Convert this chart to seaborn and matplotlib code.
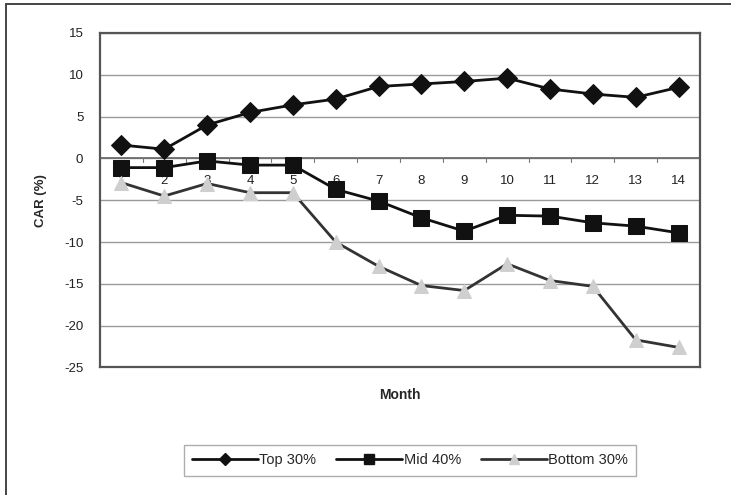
import matplotlib
matplotlib.use("Agg")
import matplotlib.pyplot as plt
import seaborn as sns
import pandas as pd
from matplotlib.lines import Line2D

months = list(range(1, 15))
top_30 = [1.6, 1.1, 4.0, 5.5, 6.4, 7.1, 8.6, 8.9, 9.2, 9.6, 8.3, 7.7, 7.3, 8.5]
mid_40 = [-1.1, -1.1, -0.3, -0.8, -0.8, -3.7, -5.1, -7.1, -8.7, -6.8, -6.9, -7.7, -8.1, -8.9]
bottom_30 = [-2.9, -4.5, -3.0, -4.1, -4.1, -10.0, -12.9, -15.2, -15.8, -12.6, -14.6, -15.3, -21.7, -22.6]
series_names = ["Top 30%", "Mid 40%", "Bottom 30%"]
y_ticks = [15, 10, 5, 0, -5, -10, -15, -20, -25]

sns.set_theme(style="white")
plt.rcParams["font.family"] = ["Liberation Sans", "DejaVu Sans"]

df = pd.DataFrame({
    "Month": months * 3,
    "CAR": top_30 + mid_40 + bottom_30,
    "Group": [series_names[0]] * 14 + [series_names[1]] * 14 + [series_names[2]] * 14,
})

fig = plt.figure(figsize=(7.31, 4.95), dpi=100)
ax = fig.add_axes([0.1368, 0.2576, 0.8208, 0.6758])

# horizontal gridlines and the category axis crossing at zero
for yv in y_ticks:
    ax.axhline(yv, color="#9a9a9a", lw=1.0, zorder=0)
ax.axhline(0, color="#666666", lw=1.2, zorder=1)
for b in range(1, 15):
    ax.plot([b + 0.5, b + 0.5], [0, -0.45], color="#777777", lw=0.8, zorder=1)

# month labels sit just under the zero line, behind the series
for m in months:
    ax.text(m, -2.7, str(m), ha="center", va="center", fontsize=9.5,
            color="#222222", zorder=1)

styles = {
    "Top 30%": dict(color="#111111", marker="D", markersize=10,
                    markerfacecolor="#111111", markeredgecolor="#111111"),
    "Mid 40%": dict(color="#111111", marker="s", markersize=11,
                    markerfacecolor="#111111", markeredgecolor="#111111"),
    "Bottom 30%": dict(color="#333333", marker="^", markersize=10,
                       markerfacecolor="#cfcfcf", markeredgecolor="#cfcfcf"),
}
for name in series_names:
    sub = df[df["Group"] == name]
    sns.lineplot(data=sub, x="Month", y="CAR", ax=ax, lw=2.0, zorder=3,
                 legend=False, **styles[name])

ax.set_xlim(0.5, 14.5)
ax.set_ylim(-25, 15)
ax.set_xticks([])
ax.set_yticks(y_ticks)
ax.set_yticklabels([str(v) for v in y_ticks], fontsize=9.5, color="#222222")
ax.tick_params(axis="y", length=0, pad=12)
ax.set_xlabel("Month", fontsize=10, fontweight="bold", labelpad=15)
ax.set_ylabel("CAR (%)", fontsize=9.5, fontweight="bold", labelpad=12)
for s in ax.spines.values():
    s.set_color("#555555")
    s.set_linewidth(1.6)

handles = [Line2D([0], [0], lw=2.0, **styles[n]) for n in series_names]
for h in handles:
    h.set_markersize(6.5)
leg = fig.legend(handles, series_names, loc="center", ncol=3,
                 bbox_to_anchor=(0.561, 0.0697), frameon=True, fancybox=False,
                 fontsize=10.5, handlelength=4.5, handletextpad=0.1,
                 columnspacing=1.4, borderpad=0.55)
leg.get_frame().set_edgecolor("#999999")
leg.get_frame().set_linewidth(1.0)

# outer frame of the figure
fig.add_artist(Line2D([0.008, 0.008], [0.0, 0.992], transform=fig.transFigure,
                      color="#444444", lw=1.4))
fig.add_artist(Line2D([0.008, 1.0], [0.992, 0.992], transform=fig.transFigure,
                      color="#444444", lw=1.4))

fig.savefig("out.png", dpi=100)
